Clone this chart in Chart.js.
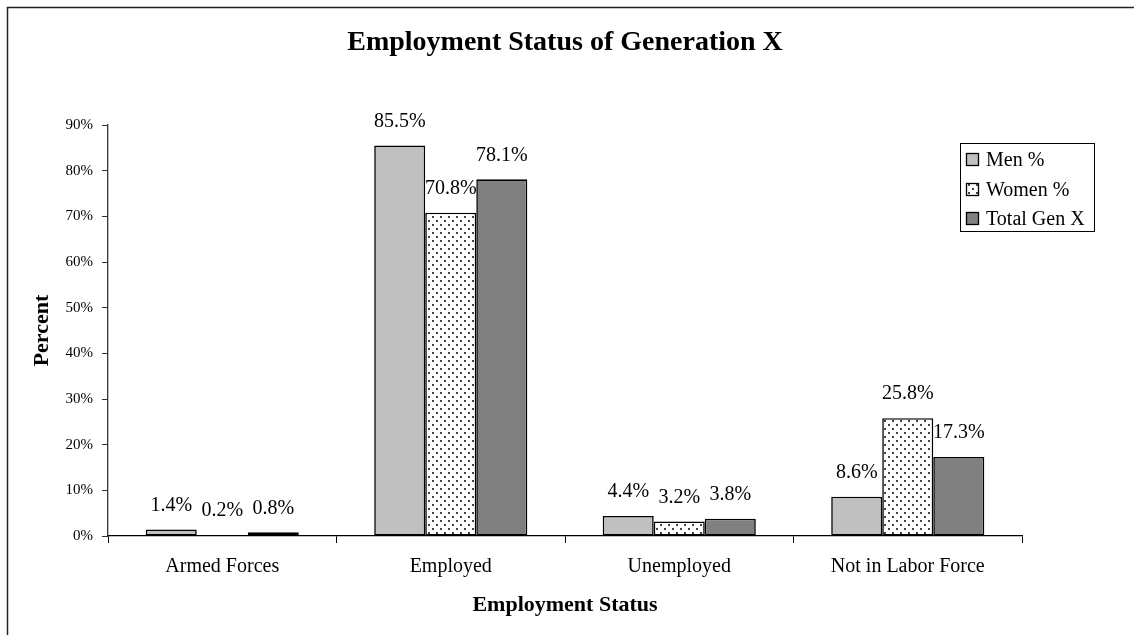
<!DOCTYPE html>
<html>
<head>
<meta charset="utf-8">
<script src="https://cdn.jsdelivr.net/npm/chart.js@4.4.1/dist/chart.umd.min.js"></script>
<style>
html,body{margin:0;padding:0;background:#fff;}
#wrap{width:1134px;height:635px;position:relative;}
</style>
</head>
<body>
<div id="wrap"><canvas id="c" width="1134" height="635"></canvas></div>
<script>
const categories = ["Armed Forces", "Employed", "Unemployed", "Not in Labor Force"];
const seriesNames = ["Men %", "Women %", "Total Gen X"];
const menValues = [1.4, 85.5, 4.4, 8.6];
const womenValues = [0.2, 70.8, 3.2, 25.8];
const totalValues = [0.8, 78.1, 3.8, 17.3];
const yTickMax = 90;
const yTickStep = 10;

const SERIF = '"Liberation Serif", "Times New Roman", Times, serif';

function makeDots() {
  const p = document.createElement('canvas');
  p.width = 8; p.height = 8;
  const g = p.getContext('2d');
  g.fillStyle = '#fff';
  g.fillRect(0, 0, 8, 8);
  g.fillStyle = '#444';
  g.fillRect(0, 0, 2, 2);
  g.fillRect(4, 4, 2, 2);
  return g.createPattern(p, 'repeat');
}
const ctx0 = document.getElementById('c').getContext('2d');
const dots = makeDots();
const fills = ['#C0C0C0', dots, '#808080'];

const decor = {
  id: 'decor',
  beforeDraw(chart) {
    const c = chart.ctx;
    c.save();
    c.fillStyle = '#fff';
    c.fillRect(0, 0, chart.width, chart.height);
    c.strokeStyle = '#222';
    c.lineWidth = 1.5;
    c.beginPath();
    c.moveTo(7.5, chart.height);
    c.lineTo(7.5, 7.5);
    c.lineTo(chart.width, 7.5);
    c.stroke();
    c.restore();
  },
  afterDraw(chart) {
    const c = chart.ctx;
    const area = chart.chartArea;
    c.save();
    c.fillStyle = '#000';
    c.font = 'bold 28px ' + SERIF;
    c.textAlign = 'center';
    c.textBaseline = 'middle';
    c.fillText('Employment Status of Generation X', (area.left + area.right) / 2, 43);
    c.font = 'bold 22px ' + SERIF;
    c.fillText('Employment Status', (area.left + area.right) / 2, 605);
    c.save();
    c.translate(42, (area.top + area.bottom) / 2);
    c.rotate(-Math.PI / 2);
    c.fillText('Percent', 0, 0);
    c.restore();
    c.font = '20px ' + SERIF;
    chart.data.datasets.forEach((ds, di) => {
      const meta = chart.getDatasetMeta(di);
      meta.data.forEach((bar, i) => {
        c.fillText(ds.data[i].toFixed(1) + '%', bar.x, bar.y - 24);
      });
    });
    const lx = 960.5, ly = 143.5, lw = 134, lh = 88;
    c.fillStyle = '#fff';
    c.fillRect(lx, ly, lw, lh);
    c.strokeStyle = '#000';
    c.lineWidth = 1;
    c.strokeRect(lx, ly, lw, lh);
    const rows = [160, 190, 219];
    c.font = '20px ' + SERIF;
    c.textAlign = 'left';
    chart.data.datasets.forEach((ds, di) => {
      const y = rows[di];
      c.fillStyle = '#fff';
      c.fillRect(966.5, y - 6.5, 12, 12);
      c.fillStyle = ds.backgroundColor;
      c.fillRect(966.5, y - 6.5, 12, 12);
      c.strokeStyle = '#000';
      c.lineWidth = 1.3;
      c.strokeRect(966.5, y - 6.5, 12, 12);
      c.fillStyle = '#000';
      c.fillText(ds.label, 986, y + 1);
    });
    c.restore();
  }
};

new Chart(ctx0, {
  type: 'bar',
  data: {
    labels: categories,
    datasets: [
      { label: seriesNames[0], data: menValues, backgroundColor: fills[0] },
      { label: seriesNames[1], data: womenValues, backgroundColor: fills[1] },
      { label: seriesNames[2], data: totalValues, backgroundColor: fills[2] }
    ].map(d => Object.assign(d, {
      borderColor: '#000', borderWidth: 1.6, borderSkipped: false,
      categoryPercentage: 0.67, barPercentage: 1.0
    }))
  },
  options: {
    responsive: false,
    animation: false,
    devicePixelRatio: 1,
    layout: { padding: { left: 0, top: 125, right: 112, bottom: 49 } },
    plugins: { legend: { display: false }, title: { display: false }, tooltip: { enabled: false } },
    scales: {
      x: {
        afterFit(s) { s.height = 50; },
        grid: { display: true, offset: true, drawOnChartArea: false, drawTicks: true, tickLength: 7, color: '#000', lineWidth: 1 },
        border: { display: true, color: '#000', width: 1.3 },
        ticks: { color: '#000', font: { family: SERIF, size: 20 }, padding: 12, maxRotation: 0, autoSkip: false }
      },
      y: {
        min: 0, max: yTickMax,
        afterFit(s) { s.width = 108; },
        grid: { display: true, drawOnChartArea: false, drawTicks: true, tickLength: 6, color: '#333', lineWidth: 1 },
        border: { display: true, color: '#333', width: 1.3 },
        ticks: { stepSize: yTickStep, color: '#000', font: { family: SERIF, size: 15 }, padding: 9,
                 callback: v => v + '%' }
      }
    }
  },
  plugins: [decor]
});
</script>
</body>
</html>
